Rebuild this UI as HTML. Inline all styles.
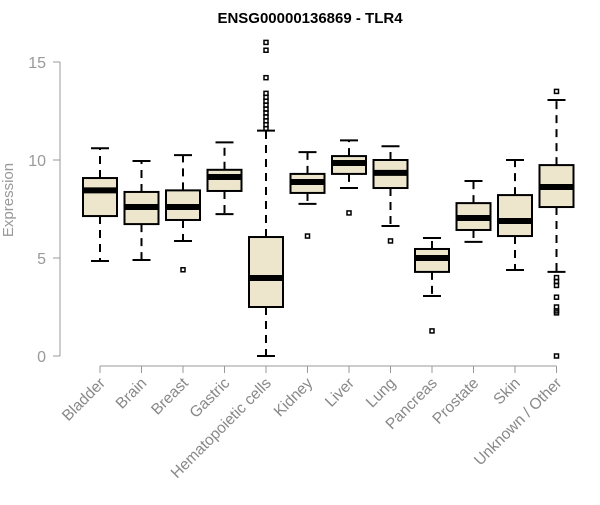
<!DOCTYPE html>
<html><head><meta charset="utf-8"><style>body{margin:0;background:#fff}svg{font-family:"Liberation Sans",sans-serif}</style></head>
<body>
<svg id="c" width="600" height="500">
<text x="310" y="23" text-anchor="middle" font-weight="bold" font-size="15">ENSG00000136869 - TLR4</text>
<text transform="translate(13,200) rotate(-90)" text-anchor="middle" font-size="15" fill="#999">Expression</text>
<g id="g"></g>
</svg>
<script>
const categories=["Bladder","Brain","Breast","Gastric","Hematopoietic cells","Kidney","Liver","Lung","Pancreas","Prostate","Skin","Unknown / Other"];
const whiskLo=[4.85,4.9,5.87,7.24,0,7.76,8.57,6.63,3.06,5.82,4.39,4.29];
const q1=[7.14,6.73,6.94,8.42,2.5,8.32,9.29,8.57,4.29,6.43,6.12,7.6];
const med=[8.45,7.6,7.6,9.13,3.98,8.88,9.85,9.34,5.0,7.04,6.89,8.62];
const q3=[9.08,8.37,8.45,9.5,6.07,9.29,10.2,10.0,5.46,7.8,8.21,9.74];
const whiskHi=[10.6,9.95,10.25,10.9,11.5,10.4,11.0,10.7,6.02,8.93,10.0,13.06];
const outliers=[[],[],[4.4],[],[11.6,11.8,12.0,12.2,12.4,12.6,12.8,13.0,13.2,13.4,14.2,15.6,16.0],[6.12],[7.3],[5.87],[1.28],[],[],[13.5,4.0,3.8,3.6,3.0,2.5,2.3,2.2,0]];
const yTicks=[0,5,10,15];
const NS="http://www.w3.org/2000/svg",g=document.getElementById('g');
const y=v=>356-v*19.6, x=i=>100+i*41.5;
function mk(t,a){const e=document.createElementNS(NS,t);for(const k in a)e.setAttribute(k,a[k]);g.appendChild(e);return e;}
let e=mk('line',{x1:60,x2:60,y1:y(0),y2:y(15),stroke:'#999'});

yTicks.forEach(t=>{let l=mk('line',{x1:53,x2:60,y1:y(t),y2:y(t),stroke:'#999'});

let s=mk('text',{x:46,y:y(t)+6,'text-anchor':'end','font-size':16,fill:'#999'});s.textContent=t;
});
e=mk('line',{x1:x(0),x2:x(11),y1:366,y2:366,stroke:'#999'});

categories.forEach((c,i)=>{const cx=x(i),w=17;
let t=mk('line',{x1:cx,x2:cx,y1:366,y2:373,stroke:'#999'});
let lb=mk('text',{transform:`translate(${cx+6},384) rotate(-45)`,'text-anchor':'end','font-size':15.5,fill:'#888'});lb.textContent=c;

let w1=mk('line',{x1:cx,x2:cx,y1:y(q3[i]),y2:y(whiskHi[i]),stroke:'#000','stroke-width':2,'stroke-dasharray':'8,6'});

let w2=mk('line',{x1:cx,x2:cx,y1:y(q1[i]),y2:y(whiskLo[i]),stroke:'#000','stroke-width':2,'stroke-dasharray':'8,6'});

[whiskHi[i],whiskLo[i]].forEach(v=>{let c2=mk('line',{x1:cx-9,x2:cx+9,y1:y(v),y2:y(v),stroke:'#000','stroke-width':2});
});
let b=mk('rect',{x:cx-w,y:y(q3[i]),width:2*w,height:y(q1[i])-y(q3[i]),fill:'#ede6cc',stroke:'#000','stroke-width':2});

let m=mk('line',{x1:cx-w,x2:cx+w,y1:y(med[i]),y2:y(med[i]),stroke:'#000','stroke-width':6});

outliers[i].forEach(v=>{let o=mk('rect',{x:cx-2,y:y(v)-2,width:4,height:4,fill:'none',stroke:'#000','stroke-width':1.5});
});
});
</script>
</body></html>
